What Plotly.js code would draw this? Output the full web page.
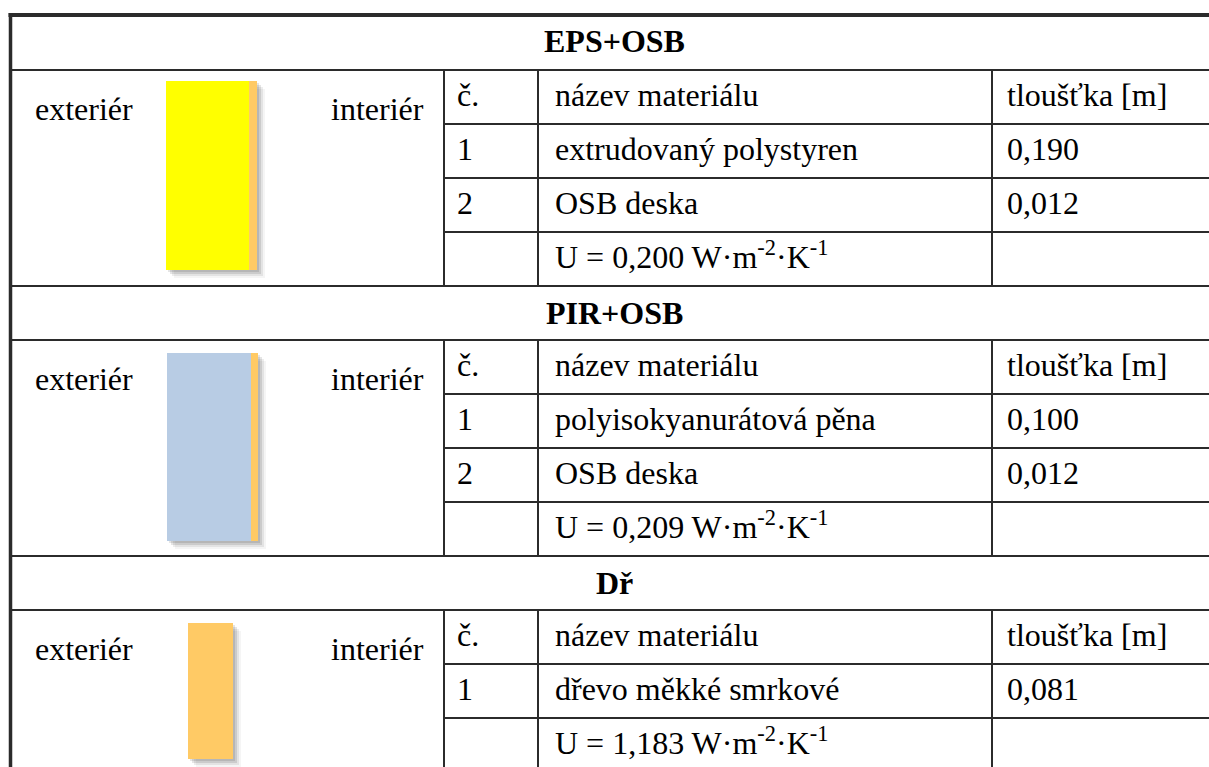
<!DOCTYPE html>
<html>
<head>
<meta charset="utf-8">
<script src="https://cdn.plot.ly/plotly-3.0.1.min.js"></script>
<style>
  html, body { margin: 0; padding: 0; background: #ffffff; }
  #chart { width: 1209px; height: 767px; }
</style>
</head>
<body>
<div id="chart"></div>
<script>
// ---- data ----
const sectionTitles = ["EPS+OSB", "PIR+OSB", "Dř"];
const headerLabels = ["č.", "název materiálu", "tloušťka [m]"];
const sideLabels = ["exteriér", "interiér"];
const materials = [
  ["extrudovaný polystyren", "OSB deska"],
  ["polyisokyanurátová pěna", "OSB deska"],
  ["dřevo měkké smrkové"]
];
const thicknesses = [
  ["0,190", "0,012"],
  ["0,100", "0,012"],
  ["0,081"]
];
const uValues = ["0,200", "0,209", "1,183"];
const layerColors = [
  ["#FFFF00", "#FFCA65"],
  ["#B8CCE4", "#FFCA65"],
  ["#FFCA65"]
];

// ---- geometry (pixels, y from top) ----
const W = 1209, H = 767;
const Y = py => H - py;
const FONT = "'Liberation Serif', 'Times New Roman', Times, serif";
const FS = 32;
const LINE = "#2b2b2b";

const sectionTops = [14, 286, 556];
const headerBottoms = [70, 340, 610];
const rowH = 54;
const colX = [444, 538, 992];
const rightEdge = 1230;
const centerX = 614;

const barGeom = [
  { x0: 166, w: [83, 8], y0: 81, y1: 270 },
  { x0: 167, w: [84, 7], y0: 353, y1: 541 },
  { x0: 188, w: [45], y0: 623, y1: 759 }
];

const shapes = [];
const annotations = [];

function hline(y, x0, x1, w) {
  shapes.push({ type: "line", xref: "x", yref: "y", x0: x0, x1: x1, y0: Y(y), y1: Y(y),
    line: { color: LINE, width: w || 2 } });
}
function vline(x, y0, y1, w) {
  shapes.push({ type: "line", xref: "x", yref: "y", x0: x, x1: x, y0: Y(y0), y1: Y(y1),
    line: { color: LINE, width: w || 2 } });
}
function rect(x0, y0, x1, y1, fill) {
  shapes.push({ type: "rect", xref: "x", yref: "y", x0: x0, x1: x1, y0: Y(y1), y1: Y(y0),
    line: { width: 0 }, fillcolor: fill });
}
function text(str, x, baseline, xanchor, bold) {
  annotations.push({
    xref: "x", yref: "y", x: x, y: Y(baseline + 8),
    xanchor: xanchor, yanchor: "bottom", showarrow: false,
    text: str,
    font: { family: FONT, size: FS, color: "#000000", weight: bold ? "bold" : "normal" }
  });
}

sectionTitles.forEach((title, s) => {
  const top = sectionTops[s];
  const hb = headerBottoms[s];
  const nRows = materials[s].length + 2;
  const bottom = Math.min(hb + nRows * rowH, H + 10);

  hline(hb, 10, rightEdge, 2);
  if (s > 0) hline(top, 10, rightEdge, 2);
  text(title, centerX, top + 39, "center", true);

  for (let r = 1; r < nRows; r++) hline(hb + r * rowH, colX[0], rightEdge, 2);
  colX.forEach(cx => vline(cx, hb, bottom, 2));

  const rowBase = r => hb + r * rowH + 37;
  text(headerLabels[0], 455, rowBase(0), "left");
  text(headerLabels[1], 553, rowBase(0), "left");
  text(headerLabels[2], 1005, rowBase(0), "left");

  materials[s].forEach((m, i) => {
    text(String(i + 1), 455, rowBase(i + 1), "left");
    text(m, 553, rowBase(i + 1), "left");
    text(thicknesses[s][i], 1005, rowBase(i + 1), "left");
  });
  text("U = " + uValues[s] + " W·m<sup>-2</sup>·K<sup>-1</sup>", 553, rowBase(materials[s].length + 1), "left");

  text(sideLabels[0], 33, hb + 51, "left");
  text(sideLabels[1], 426, hb + 51, "right");

  const g = barGeom[s];
  const totalW = g.w.reduce((a, b) => a + b, 0);
  [[8, 0.04], [6, 0.07], [4, 0.10], [2, 0.10]].forEach(([o, a]) => {
    rect(g.x0 + o, g.y0 + o, g.x0 + totalW + o, g.y1 + o, "rgba(0,0,0," + a + ")");
  });
  let x = g.x0;
  g.w.forEach((w, i) => {
    rect(x, g.y0, x + w, g.y1, layerColors[s][i]);
    x += w;
  });
});

hline(15, 8.5, rightEdge, 4);
vline(10.5, 13, H + 10, 3.5);

const layout = {
  width: W, height: H,
  margin: { l: 0, r: 0, t: 0, b: 0, pad: 0 },
  paper_bgcolor: "#ffffff", plot_bgcolor: "#ffffff",
  font: { family: FONT },
  xaxis: { range: [0, W], visible: false, fixedrange: true },
  yaxis: { range: [0, H], visible: false, fixedrange: true },
  showlegend: false,
  shapes: shapes,
  annotations: annotations
};

Plotly.newPlot("chart", [], layout, { displayModeBar: false, staticPlot: true });
</script>
</body>
</html>
